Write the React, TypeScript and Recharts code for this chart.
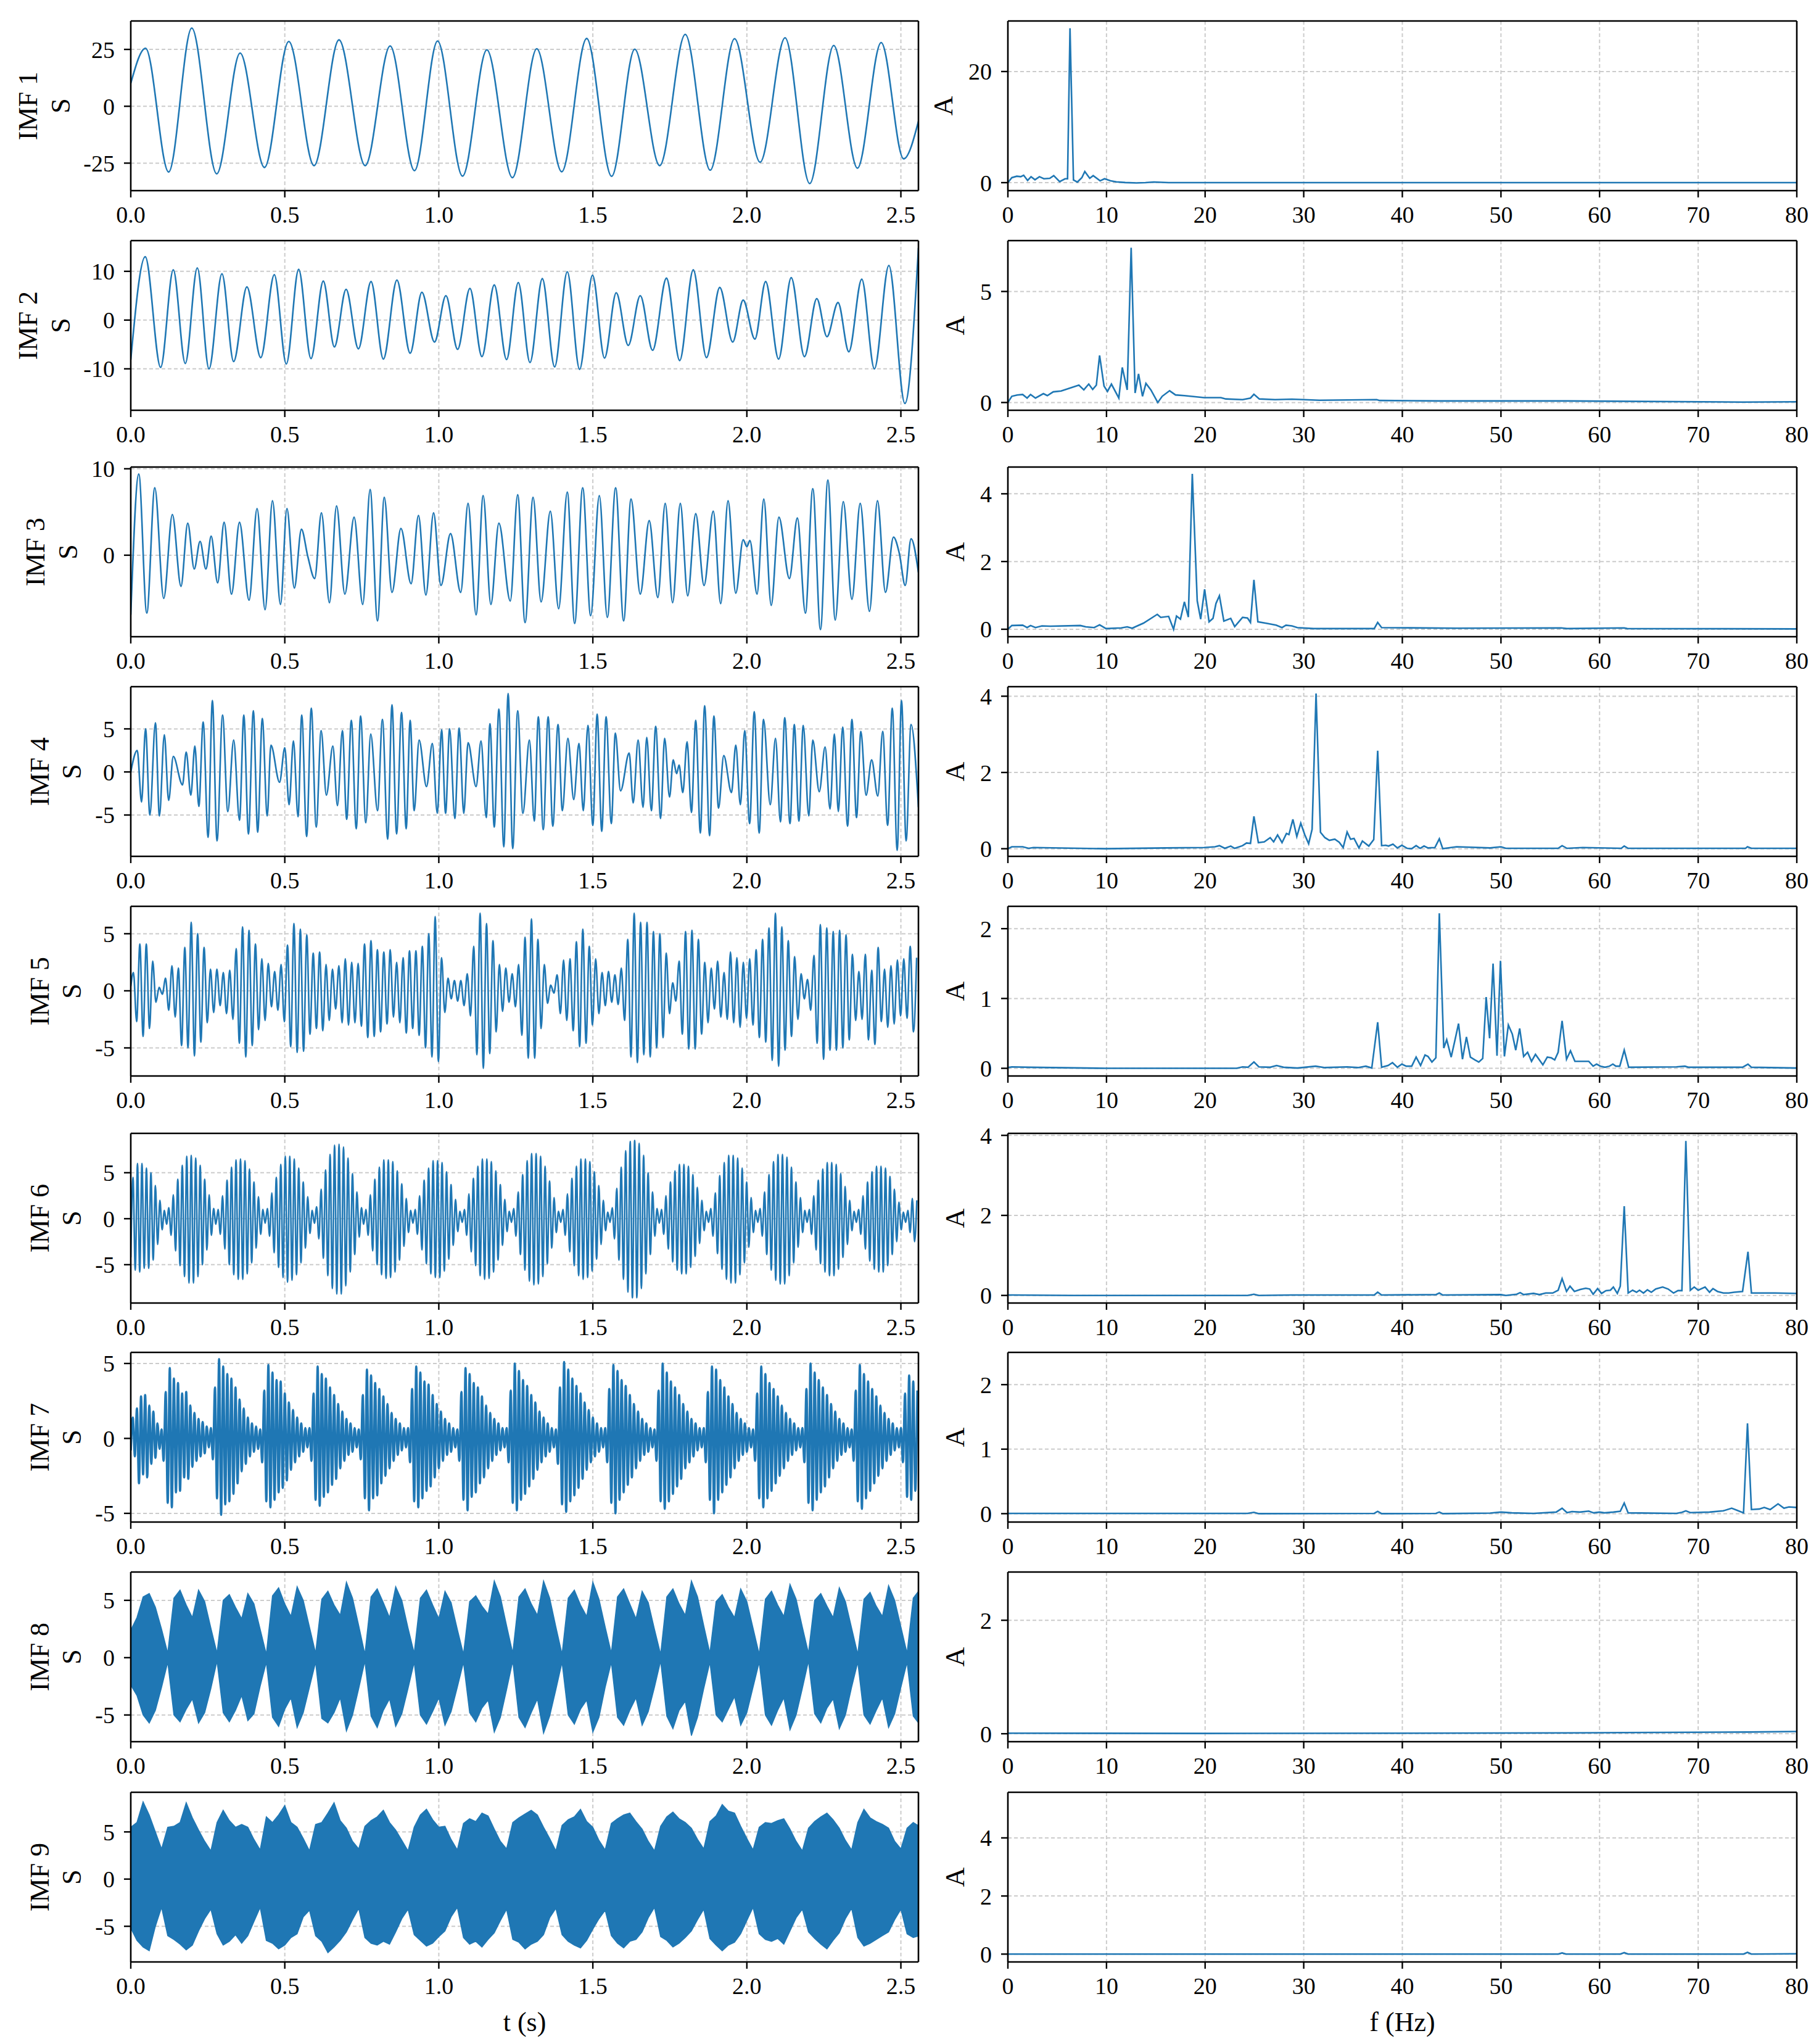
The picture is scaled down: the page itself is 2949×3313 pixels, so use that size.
import React from 'react';
import { ComposedChart, Line, Area, XAxis, YAxis, CartesianGrid, ReferenceLine } from 'recharts';

const BLUE = '#1f77b4';
const SERIF = '"Liberation Serif", "Times New Roman", serif';

const T_TICKS = [0, 0.5, 1.0, 1.5, 2.0, 2.5];
const F_TICKS = [0, 10, 20, 30, 40, 50, 60, 70, 80];
const T_MAX = 2.557;
const F_MAX = 80;

// IMF 1-4: [t (s), value] at each turning point of the trace
const IMF1 = [[0,10.1],[0.048,25.5],[0.123,-28.9],[0.198,34.4],[0.279,-29.7],[0.355,23.4],[0.434,-26.9],[0.513,28.5],[0.595,-26.1],[0.676,29.2],[0.761,-26.1],[0.842,26.5],[0.921,-28.3],[0.996,28.7],[1.077,-30.7],[1.156,24.8],[1.239,-31.4],[1.318,25.3],[1.399,-28.8],[1.48,29.8],[1.561,-30.8],[1.636,25.1],[1.717,-26.1],[1.8,31.6],[1.881,-28.1],[1.96,29.7],[2.043,-24.6],[2.124,30.1],[2.204,-34.0],[2.282,26.7],[2.359,-27.2],[2.436,28.0],[2.509,-23.1],[2.557,-6.6]];

const IMF2 = [[0,-8.1],[0.047,13.0],[0.097,-9.7],[0.138,10.3],[0.177,-8.9],[0.216,10.7],[0.254,-10.0],[0.296,9.5],[0.334,-8.5],[0.377,6.8],[0.422,-7.7],[0.466,9.3],[0.505,-9.0],[0.545,10.4],[0.585,-7.9],[0.625,8.0],[0.661,-5.5],[0.699,6.3],[0.739,-5.9],[0.78,7.9],[0.82,-8.0],[0.864,8.2],[0.907,-6.8],[0.945,5.7],[0.986,-4.5],[1.023,5.0],[1.061,-6.0],[1.101,6.5],[1.14,-7.5],[1.18,7.2],[1.22,-8.1],[1.258,7.7],[1.296,-8.7],[1.336,8.5],[1.376,-9.6],[1.417,9.9],[1.457,-10.1],[1.499,9.2],[1.538,-7.8],[1.576,5.6],[1.615,-5.2],[1.654,5.0],[1.694,-6.2],[1.739,8.6],[1.782,-8.3],[1.826,10.3],[1.869,-7.7],[1.912,6.7],[1.954,-4.5],[1.988,4.1],[2.026,-3.9],[2.061,7.9],[2.103,-8.0],[2.144,8.7],[2.187,-7.5],[2.227,4.4],[2.26,-3.4],[2.296,3.6],[2.331,-6.5],[2.373,8.4],[2.414,-10.0],[2.461,11.2],[2.513,-17.1],[2.557,14.8]];

const IMF3 = [[0,-6.9],[0.026,9.4],[0.052,-6.7],[0.078,7.8],[0.107,-5.0],[0.135,4.7],[0.163,-3.6],[0.185,3.7],[0.206,-1.6],[0.225,1.6],[0.244,-1.6],[0.261,2.2],[0.282,-3.2],[0.303,3.8],[0.327,-4.5],[0.353,3.8],[0.384,-5.2],[0.41,5.4],[0.436,-6.3],[0.46,6.3],[0.486,-5.7],[0.507,5.4],[0.531,-3.8],[0.554,3.0],[0.575,-0.2],[0.597,-2.7],[0.619,4.9],[0.645,-5.5],[0.668,5.7],[0.695,-4.5],[0.725,4.4],[0.753,-5.7],[0.777,7.6],[0.801,-7.6],[0.823,6.7],[0.848,-4.3],[0.877,3.1],[0.91,-3.3],[0.934,4.6],[0.958,-4.6],[0.983,4.9],[1.007,-3.5],[1.038,2.5],[1.071,-4.3],[1.095,6.0],[1.121,-6.9],[1.144,6.9],[1.169,-5.7],[1.195,3.7],[1.232,-5.3],[1.256,7.0],[1.28,-7.8],[1.306,6.7],[1.332,-5.4],[1.362,5.1],[1.389,-6.2],[1.417,7.3],[1.441,-7.9],[1.467,7.8],[1.493,-7.0],[1.521,6.9],[1.547,-7.2],[1.574,7.8],[1.6,-7.6],[1.624,6.5],[1.654,-4.5],[1.683,4.0],[1.711,-4.9],[1.735,6.0],[1.759,-5.5],[1.784,6.0],[1.808,-4.7],[1.834,4.8],[1.861,-3.5],[1.891,5.1],[1.915,-5.6],[1.939,6.3],[1.964,-4.4],[1.988,1.8],[2.0,1.0],[2.01,1.7],[2.033,-4.5],[2.055,6.5],[2.079,-5.8],[2.104,4.4],[2.138,-2.7],[2.164,4.3],[2.19,-6.7],[2.214,7.7],[2.239,-8.6],[2.263,8.7],[2.287,-7.5],[2.313,6.2],[2.341,-5.1],[2.368,6.0],[2.398,-6.5],[2.424,6.3],[2.45,-4.3],[2.476,2.1],[2.495,0.2],[2.514,-3.5],[2.533,1.9],[2.557,-2.0]];

const IMF4 = [[0,0],[0.021,2.5],[0.035,-3.5],[0.048,5.0],[0.062,-5.0],[0.08,5.7],[0.093,-5.1],[0.109,4.3],[0.123,-3.3],[0.138,1.8],[0.168,-1.5],[0.18,2.3],[0.195,-2.7],[0.208,3.0],[0.221,-4.0],[0.235,5.8],[0.251,-7.6],[0.265,8.3],[0.28,-8.0],[0.298,6.6],[0.315,-4.6],[0.334,3.7],[0.353,-5.6],[0.367,6.6],[0.382,-7.2],[0.398,7.1],[0.412,-7.0],[0.427,6.2],[0.443,-5.1],[0.455,3.1],[0.483,-1.2],[0.5,2.8],[0.514,-3.8],[0.528,3.6],[0.543,-5.2],[0.555,6.6],[0.571,-7.5],[0.586,7.4],[0.602,-6.4],[0.618,4.8],[0.635,-2.7],[0.656,3.0],[0.671,-3.9],[0.687,4.8],[0.701,-5.5],[0.716,6.0],[0.732,-6.6],[0.746,6.5],[0.763,-5.9],[0.779,4.4],[0.801,-4.5],[0.817,6.1],[0.834,-7.8],[0.848,7.8],[0.863,-7.2],[0.879,6.9],[0.894,-6.6],[0.907,6.0],[0.92,-4.5],[0.936,3.7],[0.96,-1.7],[0.979,3.3],[0.995,-4.8],[1.009,4.9],[1.022,-4.8],[1.035,5.0],[1.052,-5.4],[1.066,5.1],[1.081,-4.8],[1.095,3.4],[1.121,-1.7],[1.137,3.6],[1.154,-5.3],[1.166,5.6],[1.18,-6.4],[1.195,7.3],[1.211,-8.7],[1.225,9.1],[1.24,-8.9],[1.256,7.1],[1.273,-4.8],[1.294,3.7],[1.31,-5.7],[1.323,6.4],[1.339,-6.7],[1.355,6.4],[1.37,-6.3],[1.387,5.5],[1.401,-4.5],[1.419,3.9],[1.438,-3.2],[1.455,3.3],[1.469,-4.5],[1.484,5.4],[1.5,-6.2],[1.514,6.7],[1.529,-6.9],[1.543,6.4],[1.56,-6.0],[1.573,4.5],[1.59,-2.2],[1.618,2.2],[1.631,-3.6],[1.647,3.7],[1.663,-4.1],[1.675,4.0],[1.69,-4.5],[1.704,5.3],[1.72,-5.4],[1.733,3.9],[1.749,-2.9],[1.761,1.4],[1.772,-0.2],[1.78,0.8],[1.792,-2.4],[1.806,3.5],[1.82,-4.7],[1.834,6.0],[1.849,-7.1],[1.863,7.7],[1.879,-7.4],[1.893,6.5],[1.908,-4.2],[1.925,1.9],[1.95,-2.4],[1.964,3.1],[1.979,-3.8],[1.993,4.8],[2.009,-6.0],[2.024,7.0],[2.04,-7.1],[2.054,6.1],[2.076,-3.8],[2.093,3.9],[2.109,-5.8],[2.123,6.3],[2.14,-6.0],[2.154,5.5],[2.169,-5.7],[2.183,5.4],[2.201,-5.1],[2.214,3.7],[2.235,-2.3],[2.254,2.9],[2.27,-4.3],[2.284,4.4],[2.297,-4.6],[2.311,5.2],[2.327,-6.3],[2.341,6.1],[2.356,-5.3],[2.37,4.7],[2.387,-2.7],[2.405,1.4],[2.425,-2.8],[2.441,4.7],[2.457,-6.2],[2.472,7.4],[2.488,-9.1],[2.502,8.3],[2.517,-8.0],[2.533,5.5],[2.557,-4.1]];

// IMF 5: successive peaks and troughs, evenly spaced in time
const IMF5_START = 0.4;
const IMF5_T0 = 0.0087;
const IMF5_DT = 0.01042;
const IMF5_PEAKS = [1.6,4.1,4.1,2.6,0.3,1.1,2.2,2.0,3.8,6.0, 5.0,3.8,1.9,1.9,1.6,1.8,3.7,5.6,5.3,4.1, 2.8,2.4,1.7,2.3,4.0,5.9,5.4,4.9,3.3,3.4, 2.3,1.9,2.2,2.8,2.5,2.4,4.1,4.4,3.6,3.4, 3.6,2.5,2.9,3.5,3.5,3.9,5.0,6.5,2.9,1.1, 0.9,0.9,1.5,3.9,6.8,5.9,4.4,2.3,2.0,1.5, 2.3,4.7,6.3,4.5,2.3,0.5,1.4,2.7,2.8,4.3, 5.4,3.9,2.8,1.6,1.7,1.4,2.0,4.5,6.8,6.0, 6.0,5.2,5.0,3.3,0.7,2.6,5.2,5.3,4.5,2.5, 2.0,2.6,1.6,3.4,2.9,2.5,2.8,3.6,4.5,5.5, 6.8,5.6,4.4,3.0,1.5,1.0,3.1,5.8,5.5,5.2, 5.3,4.9,3.2,1.7,3.2,1.8,3.8,1.9,2.2,2.7, 2.8,3.9,2.9];
const IMF5_TROUGHS = [-2.7,-4.0,-3.3,-1.0,-0.3,-1.7,-2.3,-4.8,-5.0,-5.7, -4.5,-2.8,-1.9,-1.3,-2.0,-2.5,-4.6,-5.8,-4.8,-3.4, -2.6,-1.4,-1.7,-2.7,-4.9,-5.4,-5.3,-3.8,-3.3,-3.5, -2.6,-1.6,-2.8,-3.0,-2.8,-3.1,-4.1,-4.0,-3.6,-2.9, -2.3,-2.8,-3.7,-3.3,-3.9,-5.0,-5.8,-6.2,-1.9,-0.7, -0.9,-1.3,-2.2,-5.6,-6.8,-5.5,-3.6,-1.8,-1.0,-1.4, -3.9,-5.9,-5.9,-3.3,-1.1,-0.2,-2.0,-2.6,-3.5,-4.9, -4.6,-3.0,-2.0,-1.3,-1.0,-1.2,-2.6,-5.8,-6.3,-5.6, -5.8,-5.0,-4.1,-2.0,-0.9,-3.8,-5.1,-5.1,-3.8,-2.8, -1.6,-2.3,-2.5,-2.8,-3.2,-2.4,-3.0,-4.1,-4.5,-6.1, -6.6,-5.2,-4.0,-2.5,-0.7,-1.7,-4.6,-6.0,-5.2,-5.2, -5.0,-4.3,-2.6,-2.5,-4.3,-4.7,-2.7,-3.2,-2.9,-2.2, -2.4,-3.6];

// IMF 6 and 7: height of each half swing (first one goes down)
const IMF6_DT = 0.00727;
const IMF6_SWING = [
  4.2,4.5,5.6,6.0,5.8,6.0,5.4,5.5,5.4,5.0,4.5,3.6,2.8,2.0,1.2,0.9,0.6,
  1.2,1.8,2.6,3.5,4.3,5.1,5.8,6.3,6.8,7.0,6.9,7.0,6.6,6.3,5.8,5.0,4.3,3.4,2.6,1.8,1.1,0.6,
  1.0,1.7,2.5,3.3,4.2,5.0,5.6,6.1,6.4,6.6,6.5,6.6,6.3,6.0,5.4,4.8,4.0,3.2,2.4,1.7,1.0,0.5,
  1.1,1.9,2.8,3.7,4.5,5.3,5.9,6.4,6.8,6.9,6.8,6.7,6.5,6.1,5.5,4.8,4.0,3.2,2.4,1.6,0.9,0.5,
  1.3,2.2,3.2,4.3,5.3,6.2,7.0,7.6,8.0,8.2,8.1,8.2,7.8,7.3,6.6,5.8,4.9,3.9,2.9,2.0,1.2,0.6,
  1.0,1.8,2.6,3.5,4.3,5.0,5.6,6.1,6.4,6.5,6.4,6.4,6.2,5.8,5.2,4.5,3.8,3.0,2.2,1.5,0.9,0.5,
  1.0,1.7,2.5,3.4,4.2,4.9,5.5,6.0,6.3,6.4,6.3,6.4,6.1,5.7,5.1,4.4,3.7,2.9,2.1,1.4,0.8,0.4,
  1.0,1.8,2.7,3.6,4.4,5.1,5.7,6.2,6.5,6.6,6.5,6.5,6.2,5.8,5.2,4.5,3.7,2.9,2.1,1.4,0.8,0.4,
  1.1,1.9,2.9,3.9,4.8,5.6,6.3,6.8,7.1,7.2,7.1,7.1,6.8,6.3,5.7,4.9,4.1,3.2,2.3,1.5,0.8,0.4,
  1.0,1.8,2.7,3.6,4.4,5.1,5.7,6.2,6.5,6.6,6.5,6.4,6.2,5.7,5.1,4.4,3.6,2.8,2.0,1.3,0.7,0.4,
  1.2,2.2,3.3,4.5,5.6,6.6,7.4,8.0,8.4,8.6,8.5,8.6,8.2,7.6,6.9,6.0,5.0,3.9,2.9,1.9,1.1,0.5,
  1.0,1.7,2.5,3.3,4.0,4.7,5.2,5.6,5.9,6.0,5.9,6.0,5.7,5.3,4.8,4.1,3.4,2.7,2.0,1.3,0.8,0.4,
  1.1,1.9,2.8,3.8,4.7,5.5,6.1,6.6,6.9,7.0,6.9,7.0,6.6,6.1,5.5,4.8,4.0,3.1,2.3,1.5,0.9,0.4,
  1.1,1.9,2.9,3.9,4.8,5.6,6.2,6.7,7.0,7.1,7.0,7.1,6.7,6.2,5.6,4.8,4.0,3.1,2.3,1.5,0.9,0.4,
  1.0,1.7,2.5,3.4,4.2,4.9,5.4,5.8,6.1,6.2,6.1,6.2,5.9,5.5,4.9,4.2,3.5,2.8,2.0,1.3,0.8,0.4,
  1.0,1.7,2.5,3.3,4.0,4.6,5.1,5.5,5.7,5.8,5.7,5.8,5.5,5.1,4.6,3.9,3.2,2.5,1.8,1.2,0.7,0.4,
  0.9,1.5,2.2,2.5,2.0,
];

const IMF7_DT = 0.006667;
const IMF7_SWING = [
  0.8,1.4,1.2,2.0,3.0,2.8,2.4,2.9,2.6,2.2,1.7,1.8,1.3,1.0,0.7,
  0.6,1.5,3.1,4.3,4.7,4.6,4.0,3.6,3.7,3.5,3.0,2.6,3.1,2.7,2.2,1.9,1.7,1.5,1.3,1.2,1.1,1.0,0.8,0.6,
  0.7,1.4,3.4,4.0,5.3,5.1,4.8,4.4,4.3,4.2,4.0,3.7,3.4,3.0,2.6,2.2,2.0,1.7,1.4,1.2,1.0,0.9,0.8,0.7,
  0.6,1.6,3.2,4.2,4.9,4.6,4.4,4.1,3.9,3.6,3.8,3.3,3.0,2.8,2.4,2.1,1.9,1.6,1.4,1.2,1.0,0.9,0.7,0.6,
  0.7,1.5,3.0,4.1,4.8,4.5,4.3,3.9,4.0,3.6,3.4,3.1,2.9,2.7,2.3,2.0,1.8,1.5,1.3,1.1,1.0,0.9,0.7,0.6,
  0.6,1.4,2.9,4.0,4.6,4.8,4.2,4.0,3.7,3.8,3.3,3.0,2.8,2.5,2.3,2.0,1.7,1.5,1.3,1.1,1.0,0.8,0.7,0.6,
  0.7,1.6,3.3,4.2,4.8,4.6,4.4,4.0,3.8,3.5,3.6,3.2,2.9,2.6,2.3,2.0,1.8,1.5,1.3,1.1,1.0,0.9,0.7,0.6,
  0.6,1.5,3.1,4.1,4.7,4.8,4.3,3.9,3.7,3.6,3.4,3.0,2.8,2.6,2.2,2.0,1.7,1.5,1.3,1.1,1.0,0.8,0.7,0.6,
  0.7,1.6,3.2,4.3,5.0,4.8,4.5,4.1,3.9,3.7,3.5,3.2,2.9,2.7,2.4,2.1,1.8,1.6,1.4,1.2,1.0,0.9,0.7,0.6,
  0.6,1.7,3.4,4.4,5.1,4.9,4.6,4.2,4.0,3.8,3.5,3.3,3.0,2.7,2.4,2.1,1.9,1.6,1.4,1.2,1.0,0.9,0.7,0.6,
  0.7,1.6,3.3,4.3,4.9,5.0,4.5,4.1,3.9,3.6,3.5,3.1,2.9,2.6,2.3,2.0,1.8,1.5,1.3,1.1,1.0,0.9,0.7,0.6,
  0.6,1.5,3.2,4.2,5.0,4.7,4.4,4.2,3.8,3.7,3.4,3.2,2.9,2.7,2.3,2.0,1.8,1.6,1.3,1.2,1.0,0.8,0.7,0.6,
  0.7,1.6,3.1,4.1,4.8,5.0,4.6,4.1,3.9,3.6,3.4,3.1,2.8,2.6,2.3,2.0,1.7,1.5,1.3,1.1,1.0,0.9,0.7,0.6,
  0.6,1.5,3.0,4.0,4.8,4.6,4.3,4.0,3.7,3.5,3.3,3.0,2.8,2.5,2.2,2.0,1.7,1.5,1.3,1.1,1.0,0.8,0.7,0.6,
  0.7,1.6,3.3,4.3,5.0,4.8,4.4,4.1,3.9,3.6,3.4,3.2,2.9,2.6,2.3,2.0,1.8,1.5,1.3,1.1,1.0,0.9,0.7,0.6,
  0.6,1.5,3.2,4.2,4.9,4.7,4.3,4.0,3.8,3.5,3.3,3.0,2.8,2.5,2.2,2.0,1.7,1.5,1.3,1.1,1.0,0.8,0.7,0.6,
  0.7,1.6,3.0,3.9,4.2,4.1,3.8,3.5,3.2,
];

// IMF 8 and 9: [upper, lower] edge of the trace every 20 ms
const ENV_DT = 0.02;
const IMF8_ENV = [
  [2.4,-2.4],[3.5,-3.3],[5.3,-5.0],[5.6,-5.7],[4.4,-4.6],[2.5,-2.6],
  [0.4,-0.4],[5.2,-5.0],[5.9,-5.6],[4.6,-4.5],[3.5,-3.6],[5.9,-5.7],[4.9,-4.8],[2.6,-2.7],
  [0.4,-0.3],[5.0,-4.8],[5.5,-5.6],[4.4,-4.6],[3.4,-3.3],[5.6,-5.5],[4.7,-4.9],[2.5,-2.5],
  [0.3,-0.4],[5.4,-5.2],[6.1,-6.0],[4.7,-4.5],[3.6,-3.5],[6.2,-6.1],[5.0,-4.8],[2.7,-2.6],
  [0.4,-0.4],[5.1,-5.3],[5.8,-5.7],[4.6,-4.8],[3.7,-3.5],[6.6,-6.4],[5.2,-5.0],[2.8,-2.7],
  [0.3,-0.3],[5.3,-5.1],[6.0,-6.1],[4.8,-4.6],[3.5,-3.6],[6.2,-6.0],[5.0,-4.9],[2.6,-2.7],
  [0.4,-0.4],[5.2,-5.0],[5.9,-5.8],[4.6,-4.7],[3.4,-3.5],[5.8,-5.9],[4.8,-4.7],[2.5,-2.6],
  [0.3,-0.4],[4.9,-4.8],[5.4,-5.6],[4.5,-4.4],[3.8,-3.7],[6.7,-6.5],[5.3,-5.2],[2.8,-2.8],
  [0.4,-0.3],[5.3,-5.2],[6.0,-6.1],[4.7,-4.8],[3.7,-3.6],[6.7,-6.6],[5.2,-5.1],[2.7,-2.8],
  [0.3,-0.4],[5.2,-5.0],[5.9,-5.8],[4.6,-4.5],[3.6,-3.7],[6.6,-6.5],[5.1,-5.2],[2.7,-2.6],
  [0.4,-0.4],[5.3,-5.2],[6.0,-5.9],[4.7,-4.6],[3.4,-3.5],[5.8,-5.9],[4.8,-4.7],[2.5,-2.6],
  [0.3,-0.3],[5.3,-5.1],[6.0,-6.2],[4.7,-4.6],[3.7,-3.8],[6.7,-6.8],[5.3,-5.2],[2.8,-2.7],
  [0.4,-0.4],[4.9,-5.0],[5.5,-5.6],[4.4,-4.5],[3.5,-3.4],[6.0,-5.9],[4.9,-4.8],[2.6,-2.6],
  [0.3,-0.4],[5.1,-5.0],[5.8,-5.9],[4.6,-4.6],[3.6,-3.5],[6.4,-6.3],[5.1,-5.0],[2.7,-2.7],
  [0.4,-0.3],[5.0,-4.9],[5.6,-5.7],[4.5,-4.4],[3.5,-3.6],[6.1,-6.2],[4.9,-5.0],[2.6,-2.6],
  [0.3,-0.4],[5.1,-5.0],[5.7,-5.8],[4.5,-4.6],[3.6,-3.5],[6.3,-6.1],[5.0,-4.9],[2.7,-2.6],
  [0.4,-0.4],[5.2,-5.1],[5.9,-5.8],
];

const IMF9_ENV = [
  [5.5,-5.2],[6.0,-6.5],[8.2,-7.2],[6.8,-7.6],[5.0,-5.0],
  [3.2,-3.0],[5.5,-6.0],[5.6,-6.4],[6.0,-6.9],[8.1,-7.5],[6.5,-7.0],[5.2,-5.5],[4.0,-4.2],
  [3.0,-3.2],[6.0,-5.8],[7.3,-7.0],[6.2,-6.6],[5.5,-5.9],[5.8,-6.8],[5.5,-6.0],[4.2,-4.5],
  [3.1,-3.0],[6.6,-6.5],[6.0,-6.8],[6.8,-7.4],[7.8,-7.0],[6.0,-6.2],[5.5,-5.8],[4.3,-4.0],
  [3.0,-3.3],[5.8,-6.0],[6.0,-6.6],[7.0,-7.8],[8.1,-7.2],[6.2,-6.5],[5.4,-5.6],[4.0,-4.3],
  [3.2,-3.1],[5.6,-6.2],[6.2,-6.8],[6.6,-7.0],[7.3,-6.6],[6.0,-6.9],[5.2,-5.6],[4.1,-4.2],
  [3.0,-3.2],[5.5,-5.9],[6.8,-6.5],[7.4,-7.1],[6.3,-6.8],[5.5,-6.1],[5.6,-5.5],[4.2,-4.0],
  [3.1,-3.0],[5.9,-6.2],[6.4,-6.9],[6.1,-6.6],[7.0,-7.2],[6.7,-6.4],[5.3,-5.7],[4.0,-4.4],
  [3.2,-3.2],[6.0,-6.4],[6.5,-6.7],[6.9,-7.4],[7.3,-6.9],[6.8,-6.6],[5.5,-5.9],[4.3,-4.1],
  [3.0,-3.1],[5.7,-5.9],[6.3,-6.6],[6.6,-7.0],[7.4,-7.3],[6.1,-6.5],[5.5,-5.3],[4.1,-4.2],
  [3.1,-3.3],[5.9,-6.0],[6.4,-6.8],[6.8,-7.3],[7.0,-6.6],[6.1,-6.4],[5.3,-5.6],[4.0,-4.1],
  [3.0,-3.0],[5.6,-6.1],[6.6,-6.5],[7.1,-7.2],[6.4,-6.8],[6.0,-6.2],[5.4,-5.5],[4.2,-4.3],
  [3.2,-3.2],[6.1,-6.3],[6.7,-7.0],[7.9,-7.6],[7.2,-7.0],[7.0,-6.7],[5.6,-5.8],[4.3,-4.4],
  [3.1,-3.0],[5.5,-5.8],[6.0,-6.4],[5.9,-6.6],[6.2,-6.3],[6.4,-6.9],[5.3,-5.5],[4.0,-4.1],
  [3.0,-3.2],[5.4,-5.6],[6.1,-6.3],[6.6,-6.9],[7.0,-7.4],[6.3,-6.5],[5.4,-5.7],[4.1,-4.2],
  [3.1,-3.1],[6.0,-6.2],[7.4,-7.1],[6.5,-6.8],[6.1,-6.4],[5.8,-6.0],[5.4,-5.6],[4.0,-4.3],
  [3.2,-3.2],[5.4,-5.8],[6.0,-6.2],[5.6,-6.0],
];

// amplitude spectra: [f (Hz), A]
const SPEC1 = [[0,0],[0.4,0.9],[0.9,1.15],[1.3,1.07],[1.6,1.33],[2.0,0.4],[2.35,1.07],[2.75,0.52],[3.2,1.07],[3.65,0.7],[4.25,0.78],[4.65,1.26],[5.25,0.18],[5.8,0.7],[6.05,0.7],[6.3,27.8],[6.65,0.48],[7.05,0.11],[7.5,0.89],[7.8,2.0],[8.3,0.78],[8.65,1.26],[9.35,0.33],[9.8,0.7],[10.4,0.33],[11.0,0.15],[11.9,0.02],[13.05,-0.06],[13.95,0],[14.8,0.11],[16.3,0],[80,0]];
const SPEC2 = [[0,0],[0.4,0.28],[0.95,0.34],[1.5,0.36],[1.95,0.2],[2.3,0.36],[2.8,0.2],[3.6,0.4],[4.0,0.31],[4.6,0.48],[5.4,0.52],[7.2,0.78],[7.7,0.57],[8.2,0.83],[8.6,0.59],[8.97,0.78],[9.3,2.12],[9.75,0.74],[10.1,0.5],[10.5,0.83],[11.25,0.2],[11.6,1.58],[12.1,0.57],[12.5,6.97],[12.9,0.43],[13.25,1.29],[13.65,0.28],[14.0,0.86],[14.5,0.57],[15.2,0.0],[15.65,0.28],[16.4,0.53],[17.0,0.34],[17.9,0.31],[19.9,0.22],[21.6,0.22],[22.1,0.16],[23.8,0.13],[24.6,0.2],[24.95,0.37],[25.5,0.16],[27.1,0.13],[28.8,0.15],[31.6,0.1],[37.4,0.13],[37.7,0.09],[43.8,0.07],[56.7,0.07],[74.5,0.02],[80,0.03]];
const SPEC3 = [[0,0],[0.4,0.11],[1.5,0.12],[1.95,0.05],[2.3,0.11],[2.8,0.05],[3.45,0.1],[4.3,0.09],[7.35,0.11],[7.9,0.07],[8.75,0.05],[9.3,0.13],[9.95,0.02],[11.5,0.04],[12.1,0.07],[12.6,0.03],[13.75,0.18],[15.15,0.44],[15.5,0.35],[16.3,0.38],[16.8,0.0],[17.1,0.39],[17.5,0.3],[17.9,0.81],[18.3,0.36],[18.7,4.59],[19.2,0.84],[19.55,0.3],[19.95,1.18],[20.4,0.22],[20.8,0.32],[21.1,0.76],[21.45,0.99],[21.9,0.24],[22.6,0.32],[23.0,0.08],[23.8,0.35],[24.3,0.33],[24.6,0.2],[24.95,1.46],[25.35,0.22],[26.3,0.17],[27.2,0.12],[27.8,0.05],[28.2,0.12],[28.8,0.1],[29.35,0.05],[31.0,0.02],[37.15,0.02],[37.5,0.2],[37.9,0.05],[45.5,0.03],[56.1,0.04],[56.7,0.02],[62.5,0.04],[62.8,0.02],[80,0.01]];
const SPEC4 = [[0,0],[0.4,0.05],[1.5,0.05],[2.1,0.01],[2.6,0.03],[9.9,0],[16,0.02],[19.9,0.03],[21,0.05],[21.45,0.08],[22,0.01],[22.6,0.07],[23,0.01],[23.8,0.08],[24.2,0.15],[24.6,0.14],[24.95,0.85],[25.4,0.16],[26.0,0.18],[26.6,0.29],[26.95,0.18],[27.35,0.36],[27.8,0.16],[28.25,0.4],[28.5,0.37],[28.9,0.77],[29.3,0.32],[29.7,0.67],[30.1,0.37],[30.5,0.13],[30.85,0.51],[31.25,4.07],[31.7,0.43],[32.15,0.29],[32.6,0.22],[33.15,0.25],[33.6,0.17],[34.0,0.03],[34.4,0.44],[34.75,0.25],[35.1,0.27],[35.6,0.02],[35.95,0.2],[36.6,0.07],[37.1,0.24],[37.5,2.57],[37.9,0.08],[38.3,0.09],[38.6,0.07],[39.05,0.12],[39.5,0.02],[39.95,0.09],[40.5,0.01],[40.95,0],[41.4,0.08],[41.8,0.01],[42.2,0.07],[42.6,0.02],[43.3,0.03],[43.75,0.26],[44.1,0],[45.5,0.05],[48.9,0.02],[50,0.05],[50.5,0.01],[55.8,0.01],[56.2,0.08],[56.7,0.01],[58.3,0.03],[62.2,0.01],[62.5,0.07],[62.9,0.01],[74.8,0.01],[75.0,0.05],[75.4,0.01],[80,0.01]];
const SPEC5 = [[0,0.01],[0.4,0.02],[2.1,0.015],[9.9,0],[23.2,0],[23.8,0.02],[24.35,0.015],[24.95,0.09],[25.45,0.02],[26.6,0.015],[27.25,0.04],[27.95,0.015],[29.35,0.004],[31.2,0.03],[32.15,0.01],[34.4,0.02],[35.5,0.01],[36.3,0.03],[36.9,0.004],[37.5,0.66],[37.9,0.015],[38.55,0.04],[39.0,0.08],[39.5,0.015],[39.95,0.06],[40.4,0.03],[40.95,0.03],[41.4,0.16],[41.85,0.04],[42.3,0.19],[42.6,0.17],[43.0,0.09],[43.4,0.15],[43.75,2.22],[44.2,0.29],[44.5,0.41],[44.95,0.16],[45.3,0.38],[45.7,0.64],[46.1,0.13],[46.5,0.45],[46.9,0.16],[47.35,0.12],[47.75,0.09],[48.15,0.14],[48.5,1.02],[48.85,0.43],[49.2,1.5],[49.6,0.18],[49.95,1.54],[50.35,0.17],[50.75,0.62],[51.15,0.49],[51.5,0.26],[51.9,0.57],[52.3,0.17],[52.7,0.23],[53.1,0.1],[53.5,0.2],[53.9,0.12],[54.25,0.05],[54.7,0.16],[55.1,0.15],[55.45,0.12],[55.8,0.23],[56.2,0.68],[56.65,0.13],[57.05,0.25],[57.5,0.1],[58.3,0.1],[58.9,0.1],[59.35,0.03],[59.7,0.06],[60.1,0.03],[60.55,0.015],[61.0,0.03],[61.35,0.06],[61.65,0.03],[62.05,0.03],[62.5,0.26],[62.95,0.015],[67.8,0.02],[68.65,0.03],[69.0,0.015],[74.5,0.015],[75.05,0.06],[75.4,0.015],[80,0.004]];
const SPEC6 = [[0,0.01],[0.4,0.01],[6.5,0],[24.3,0],[24.95,0.03],[25.45,0],[28.8,0.01],[37.15,0.01],[37.5,0.08],[37.9,0.01],[43.4,0.02],[43.75,0.06],[44.1,0.01],[50,0.02],[50.5,0],[51.6,0.03],[51.95,0.07],[52.3,0.02],[53.3,0.05],[53.9,0.02],[54.55,0.06],[55.25,0.06],[55.8,0.13],[56.2,0.42],[56.65,0.1],[57.0,0.23],[57.45,0.1],[58.05,0.15],[58.6,0.18],[59.0,0.16],[59.35,0.03],[59.8,0.17],[60.2,0.05],[60.65,0.12],[61.1,0.13],[61.4,0.21],[61.8,0.05],[62.1,0.23],[62.5,2.23],[62.9,0.06],[63.35,0.13],[63.75,0.08],[64.05,0.13],[64.45,0.06],[64.85,0.14],[65.25,0.08],[65.7,0.16],[66.4,0.21],[66.95,0.16],[67.5,0.06],[67.95,0.12],[68.35,0.12],[68.75,3.86],[69.2,0.13],[69.6,0.21],[70.0,0.13],[70.7,0.21],[71.15,0.08],[71.5,0.17],[71.95,0.1],[72.55,0.06],[73.1,0.06],[73.65,0.08],[74.5,0.1],[75.05,1.09],[75.4,0.06],[77.8,0.06],[80,0.05]];
const SPEC7 = [[0,0.004],[24.3,0.004],[24.95,0.02],[25.45,0],[37.15,0.004],[37.5,0.036],[37.9,0],[43.4,0.004],[43.75,0.024],[44.1,0],[48.9,0.008],[50,0.024],[51.1,0.012],[53.3,0.004],[55.6,0.024],[56.2,0.084],[56.7,0.016],[57.2,0.032],[58.0,0.024],[58.9,0.04],[59.4,0.012],[60.0,0.024],[60.5,0.012],[61.4,0.024],[62.1,0.036],[62.5,0.164],[62.9,0.012],[67.8,0.004],[68.35,0.02],[68.75,0.044],[69.2,0.016],[71.15,0.024],[72.55,0.044],[73.4,0.084],[73.95,0.052],[74.6,0.012],[75.0,1.4],[75.4,0.064],[76.2,0.072],[76.7,0.096],[77.3,0.064],[78.1,0.152],[78.7,0.084],[79.2,0.104],[80,0.096]];
const SPEC8 = [[0,0.01],[20,0.005],[40,0.01],[56,0.015],[62.5,0.02],[75,0.03],[80,0.04]];
const SPEC9 = [[0,0],[55.8,0],[56.2,0.04],[56.6,0],[62.1,0],[62.5,0.05],[62.9,0],[74.6,0],[75,0.06],[75.4,0],[80,0.01]];

// layout (px)
const ROW_TOP = [34, 390, 757, 1113, 1469, 1837, 2192, 2548, 2905];
const PLOT_H = 275;
const LEFT_X = 212;
const LEFT_W = 1277;
const RIGHT_X = 1634;
const RIGHT_W = 1279;
const YW = 150;
const XH = 90;
const MT = 24;
const MR = 40;

type Pt = { x: number; y?: number; band?: number[] };

const fromPairs = (p: number[][]): Pt[] => p.map(([x, y]) => ({ x, y }));
const fromSwings = (s: number[], dt: number): Pt[] =>
  s.map((a, i) => ({ x: i * dt, y: i % 2 === 0 ? -a : a }));
const fromPeaks = (peaks: number[], troughs: number[], start: number, t0: number, dt: number): Pt[] => {
  const seq: number[] = [];
  peaks.forEach((p, i) => {
    seq.push(p);
    if (i < troughs.length) seq.push(troughs[i]);
  });
  return [{ x: 0, y: start }, ...seq.map((y, i) => ({ x: t0 + i * dt, y }))];
};
const fromEnv = (e: number[][], dt: number): Pt[] => e.map(([hi, lo], i) => ({ x: i * dt, band: [lo, hi] }));

type Panel = { data: Pt[]; domain: [number, number]; ticks: number[]; mode: 'smooth' | 'linear' | 'band'; lw?: number };

const SIGNALS: Panel[] = [
  { data: fromPairs(IMF1), domain: [-37.1, 37.5], ticks: [-25, 0, 25], mode: 'smooth' },
  { data: fromPairs(IMF2), domain: [-18.5, 16.3], ticks: [-10, 0, 10], mode: 'smooth' },
  { data: fromPairs(IMF3), domain: [-9.43, 10.2], ticks: [0, 10], mode: 'smooth' },
  { data: fromPairs(IMF4), domain: [-9.8, 9.9], ticks: [-5, 0, 5], mode: 'smooth' },
  { data: fromPeaks(IMF5_PEAKS, IMF5_TROUGHS, IMF5_START, IMF5_T0, IMF5_DT), domain: [-7.46, 7.4], ticks: [-5, 0, 5], mode: 'smooth' },
  { data: fromSwings(IMF6_SWING, IMF6_DT), domain: [-9.17, 9.28], ticks: [-5, 0, 5], mode: 'smooth' },
  { data: fromSwings(IMF7_SWING, IMF7_DT), domain: [-5.58, 5.74], ticks: [-5, 0, 5], mode: 'smooth', lw: 3.6 },
  { data: fromEnv(IMF8_ENV, ENV_DT), domain: [-7.33, 7.47], ticks: [-5, 0, 5], mode: 'band' },
  { data: fromEnv(IMF9_ENV, ENV_DT), domain: [-8.78, 9.2], ticks: [-5, 0, 5], mode: 'band' },
];

const SPECTRA: Panel[] = [
  { data: fromPairs(SPEC1), domain: [-1.44, 29.1], ticks: [0, 20], mode: 'linear' },
  { data: fromPairs(SPEC2), domain: [-0.35, 7.29], ticks: [0, 5], mode: 'linear' },
  { data: fromPairs(SPEC3), domain: [-0.22, 4.79], ticks: [0, 2, 4], mode: 'linear' },
  { data: fromPairs(SPEC4), domain: [-0.2, 4.25], ticks: [0, 2, 4], mode: 'linear' },
  { data: fromPairs(SPEC5), domain: [-0.11, 2.32], ticks: [0, 1, 2], mode: 'linear' },
  { data: fromPairs(SPEC6), domain: [-0.19, 4.05], ticks: [0, 2, 4], mode: 'linear' },
  { data: fromPairs(SPEC7), domain: [-0.13, 2.5], ticks: [0, 1, 2], mode: 'linear' },
  { data: fromPairs(SPEC8), domain: [-0.14, 2.85], ticks: [0, 2], mode: 'linear' },
  { data: fromPairs(SPEC9), domain: [-0.27, 5.57], ticks: [0, 2, 4], mode: 'linear' },
];

const TICK = { fontSize: 38, fill: '#000', fontFamily: SERIF };
const SPINE = { stroke: '#000', strokeWidth: 2.6 };
const TICK_LINE = { stroke: '#000', strokeWidth: 2.4 };

function Plot({ left, top, width, p, xMax, xTicks, xFmt }: {
  left: number; top: number; width: number; p: Panel; xMax: number; xTicks: number[]; xFmt: (v: number) => string;
}) {
  return (
    <div style={{ position: 'absolute', left: left - YW, top: top - MT }}>
      <ComposedChart
        width={YW + width + MR}
        height={MT + PLOT_H + XH}
        data={p.data}
        margin={{ top: MT, right: MR, bottom: 0, left: 0 }}
      >
        <CartesianGrid stroke="#cccccc" strokeWidth={2} strokeDasharray="6 4" />
        <XAxis
          type="number"
          dataKey="x"
          domain={[0, xMax]}
          ticks={xTicks}
          interval={0}
          tickFormatter={xFmt}
          allowDataOverflow
          height={XH}
          tickSize={11}
          tickMargin={14}
          tick={TICK}
          tickLine={TICK_LINE}
          axisLine={SPINE}
        />
        <YAxis
          type="number"
          domain={p.domain}
          ticks={p.ticks}
          interval={0}
          allowDataOverflow
          width={YW}
          tickSize={11}
          tickMargin={15}
          tick={TICK}
          tickLine={TICK_LINE}
          axisLine={SPINE}
        />
        {p.mode === 'band' ? (
          <Area
            dataKey="band"
            type="linear"
            stroke={BLUE}
            strokeWidth={1.5}
            fill={BLUE}
            fillOpacity={1}
            dot={false}
            activeDot={false}
            isAnimationActive={false}
          />
        ) : (
          <Line
            dataKey="y"
            type={p.mode === 'smooth' ? 'monotone' : 'linear'}
            stroke={BLUE}
            strokeWidth={p.lw ?? 2.6}
            dot={false}
            activeDot={false}
            isAnimationActive={false}
          />
        )}
        <ReferenceLine y={p.domain[1]} stroke="#000" strokeWidth={2.6} />
        <ReferenceLine x={xMax} stroke="#000" strokeWidth={2.6} />
      </ComposedChart>
    </div>
  );
}

// x of the two label lines for each row, left column
const LABEL_X = [[45, 98], [45, 98], [57, 110], [64, 116], [64, 116], [64, 116], [64, 116], [64, 116], [64, 116]];
const A_X = [1529, 1548, 1548, 1548, 1548, 1548, 1548, 1548, 1548];

export default function App() {
  return (
    <div style={{ position: 'relative', width: 2949, height: 3313, background: '#fff', overflow: 'hidden' }}>
      <style>{'body{margin:0}'}</style>
      {SIGNALS.map((p, i) => (
        <Plot key={'s' + i} left={LEFT_X} top={ROW_TOP[i]} width={LEFT_W} p={p} xMax={T_MAX} xTicks={T_TICKS} xFmt={(v) => v.toFixed(1)} />
      ))}
      {SPECTRA.map((p, i) => (
        <Plot key={'f' + i} left={RIGHT_X} top={ROW_TOP[i]} width={RIGHT_W} p={p} xMax={F_MAX} xTicks={F_TICKS} xFmt={(v) => String(v)} />
      ))}
      <svg width={2949} height={3313} style={{ position: 'absolute', left: 0, top: 0, pointerEvents: 'none' }}>
        <g fontFamily={SERIF} fontSize={44} fill="#000" textAnchor="middle" dominantBaseline="central">
          {ROW_TOP.map((t, i) => {
            const cy = t + PLOT_H / 2;
            return (
              <g key={i}>
                <text transform={`translate(${LABEL_X[i][0]},${cy}) rotate(-90)`}>{`IMF ${i + 1}`}</text>
                <text transform={`translate(${LABEL_X[i][1]},${cy}) rotate(-90)`}>S</text>
                <text transform={`translate(${A_X[i]},${cy}) rotate(-90)`}>A</text>
              </g>
            );
          })}
          <text x={LEFT_X + LEFT_W / 2} y={3277}>t (s)</text>
          <text x={RIGHT_X + RIGHT_W / 2} y={3277}>f (Hz)</text>
        </g>
      </svg>
    </div>
  );
}
